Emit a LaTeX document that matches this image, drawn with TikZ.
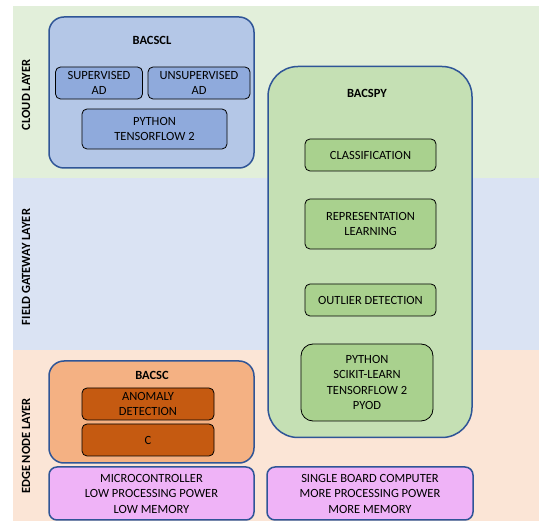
\documentclass[tikz,border=0pt]{standalone}
\usepackage{fontspec}
\setmainfont{Carlito}
\usepackage{xcolor}
\usepackage{tikz}
\usetikzlibrary{shapes}
\definecolor{cloudbg}{HTML}{E2EFDA}
\definecolor{gatewaybg}{HTML}{DAE3F3}
\definecolor{edgebg}{HTML}{FBE5D6}
\definecolor{frameblue}{HTML}{2F5597}
\definecolor{bluefill}{HTML}{B4C7E7}
\definecolor{bluein}{HTML}{8FAADC}
\definecolor{greenfill}{HTML}{C5E0B4}
\definecolor{greenin}{HTML}{A9D18E}
\definecolor{orangefill}{HTML}{F4B183}
\definecolor{orangein}{HTML}{C55A11}
\definecolor{violetfill}{HTML}{EFB3F7}
\newcommand{\boxfont}{\fontsize{12.5}{15.5}\selectfont}
\tikzstyle{platform} = [rectangle, rounded corners=15pt, draw=frameblue, line width=1.5pt, inner sep=0pt]
\tikzstyle{module} = [rectangle, rounded corners=5pt, draw=black, line width=0.8pt, inner sep=0pt, align=center, text centered]
\tikzstyle{hwbox} = [rectangle, rounded corners=8pt, draw=frameblue, line width=1.5pt, fill=violetfill, inner sep=0pt, align=center, minimum width=205pt, minimum height=53pt]
\tikzstyle{boxtitle} = [font=\boxfont\bfseries]
\tikzstyle{layerlabel} = [rotate=90, font=\boxfont\bfseries]

\begin{document}
\begin{tikzpicture}[x=1pt, y=-1pt, font=\boxfont]
\useasboundingbox (0,0) rectangle (539,521);

%==============================================
%Capas
%==============================================
\fill [cloudbg] (13,6) rectangle (539,178);
\fill [gatewaybg] (13,178) rectangle (539,350);
\fill [edgebg] (13,350) rectangle (539,521);
\node (cloud) [layerlabel] at (26,95) {CLOUD LAYER};
\node (gateway) [layerlabel] at (26,267) {FIELD GATEWAY LAYER};
\node (edge) [layerlabel] at (26,446) {EDGE NODE LAYER};

%Nodo BACSCL==============================================
\node (bacscl) [platform, fill=bluefill, minimum width=205pt, minimum height=151pt] at (151.5,92.5) {};
\node [boxtitle] at (152,40) {BACSCL};
\node (sup) [module, fill=bluein, minimum width=87pt, minimum height=32pt] at (99,83) {SUPERVISED\\AD};
\node (unsup) [module, fill=bluein, minimum width=102pt, minimum height=32pt] at (199,83) {UNSUPERVISED\\AD};
\node (pytf) [module, fill=bluein, minimum width=145pt, minimum height=40pt] at (154.5,129) {PYTHON\\TENSORFLOW 2};

%Nodo BACSPY==============================================
\node (bacspy) [platform, rounded corners=30pt, fill=greenfill, minimum width=204pt, minimum height=371pt] at (370,252) {};
\node [boxtitle] at (367,93) {BACSPY};
\node (class) [module, fill=greenin, minimum width=131pt, minimum height=32pt] at (370.5,155) {CLASSIFICATION};
\node (repr) [module, fill=greenin, minimum width=131pt, minimum height=50pt] at (370.5,224) {REPRESENTATION\\LEARNING};
\node (outl) [module, fill=greenin, minimum width=131pt, minimum height=32pt] at (370.5,300) {OUTLIER DETECTION};
\node (pylib) [module, rounded corners=12pt, fill=greenin, minimum width=132pt, minimum height=77pt] at (367,382.5) {PYTHON\\SCIKIT-LEARN\\TENSORFLOW 2\\PYOD};

%Nodo BACSC==============================================
\node (bacsc) [platform, fill=orangefill, minimum width=205pt, minimum height=102pt] at (151.5,412) {};
\node [boxtitle] at (152,375) {BACSC};
\node (anom) [module, fill=orangein, minimum width=132pt, minimum height=32pt] at (148,404) {ANOMALY\\DETECTION};
\node (clang) [module, fill=orangein, minimum width=132pt, minimum height=32pt] at (148,440) {C};

%Hardware==============================================
\node (mcu) [hwbox] at (151.5,493.5) {MICROCONTROLLER\\LOW PROCESSING POWER\\LOW MEMORY};
\node (sbc) [hwbox, minimum width=206pt] at (370,493.5) {SINGLE BOARD COMPUTER\\MORE PROCESSING POWER\\MORE MEMORY};
\end{tikzpicture}
\end{document}
